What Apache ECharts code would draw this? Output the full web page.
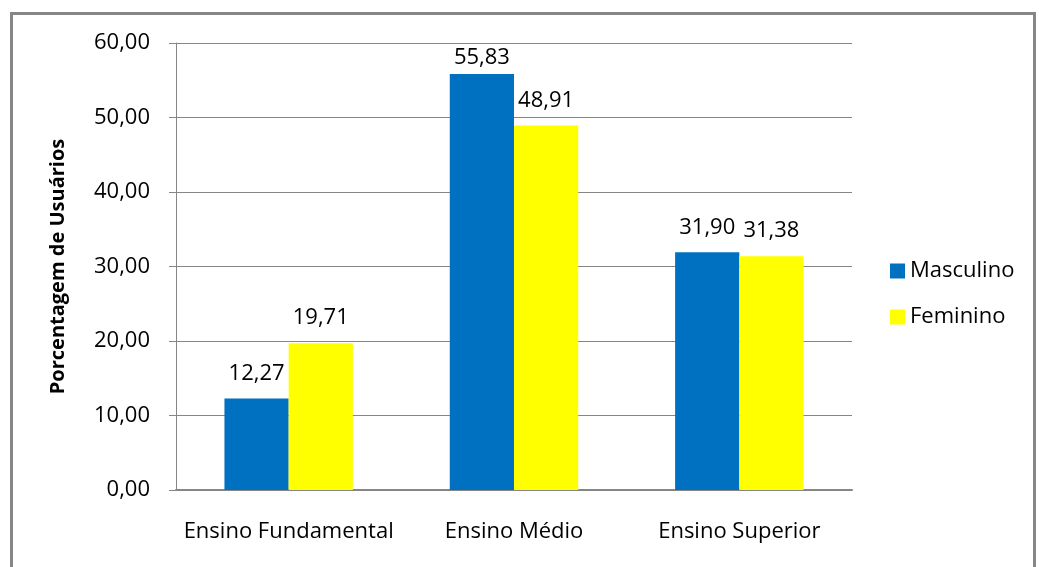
<!DOCTYPE html>
<html><head><meta charset="utf-8">
<script src="https://cdn.jsdelivr.net/npm/echarts@6/dist/echarts.min.js"></script>
<style>html,body{margin:0;padding:0;background:#fff}#c{width:1039px;height:567px}
#frame{position:absolute;left:10px;top:12px;width:1026px;height:600px;border:3px solid #868686;box-sizing:border-box;pointer-events:none}</style>
</head><body><div id="c"></div><div id="frame"></div>
<script>
const categories = ['Ensino Fundamental', 'Ensino Médio', 'Ensino Superior'];
const masculino = [12.27, 55.83, 31.90];
const feminino = [19.71, 48.91, 31.38];
const seriesNames = ['Masculino', 'Feminino'];
const yAxisTitle = 'Porcentagem de Usuários';

const font = 'Open Sans';
const fmt = v => v.toFixed(2).replace('.', ',');
const chart = echarts.init(document.getElementById('c'), null, {renderer: 'canvas'});
const labelCfg = {show: true, position: 'top', distance: 14, color: '#000', fontFamily: font, fontSize: 22, formatter: p => fmt(p.value)};
chart.setOption({
  animation: false,
  backgroundColor: '#fff',
  grid: {left: 176, right: 187, top: 43, bottom: 77},
  legend: {
    orient: 'vertical', left: 885, top: 255, itemWidth: 15, itemHeight: 15, itemGap: 24,
    icon: 'rect',
    textStyle: {fontFamily: font, fontSize: 22, lineHeight: 22, color: '#000'},
    data: seriesNames
  },
  xAxis: {
    type: 'category', data: categories,
    axisLine: {lineStyle: {color: '#868686', width: 2}},
    axisTick: {show: false},
    axisLabel: {interval: 0, color: '#000', fontFamily: font, fontSize: 22, margin: 31}
  },
  yAxis: {
    type: 'value', min: 0, max: 60, interval: 10,
    name: yAxisTitle, nameLocation: 'middle', nameGap: 108,
    nameTextStyle: {fontFamily: font, fontSize: 20, fontWeight: 'bold', color: '#000'},
    axisLine: {show: true, lineStyle: {color: '#868686', width: 1}},
    axisTick: {show: true, length: 7, lineStyle: {color: '#868686'}},
    splitLine: {lineStyle: {color: '#868686', width: 1}},
    axisLabel: {color: '#000', fontFamily: font, fontSize: 22, margin: 26, formatter: v => fmt(v)}
  },
  series: [
    {name: seriesNames[0], type: 'bar', data: masculino, barGap: '0%', barCategoryGap: '43%', itemStyle: {color: '#0070C0'}, label: labelCfg},
    {name: seriesNames[1], type: 'bar', data: feminino, itemStyle: {color: '#FFFF00'}, label: labelCfg}
  ]
});
// Keep labels inside the chart area (like the original): shrink distance for tall bars
const fit = arr => arr.map((v, i) => {
  const top = chart.convertToPixel({gridIndex: 0}, [i, v])[1];
  return {value: v, label: {distance: Math.max(4, Math.min(14, Math.round(top - 69)))}};
});
chart.setOption({series: [{data: fit(masculino)}, {data: fit(feminino)}]});
</script></body></html>
